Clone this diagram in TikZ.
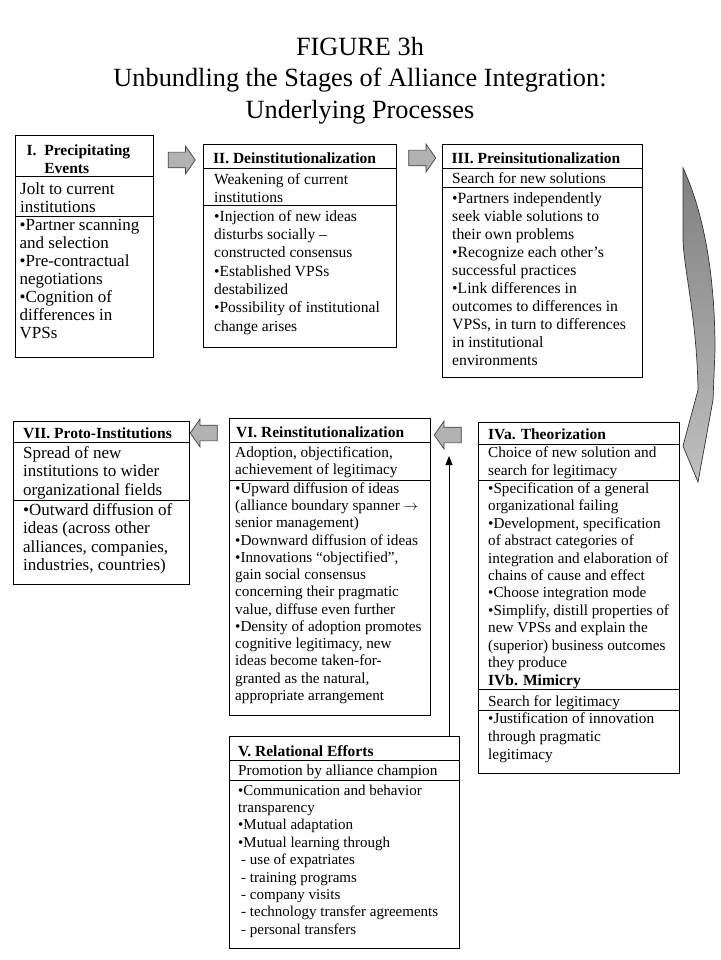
\documentclass[tikz,border=0pt]{standalone}
\usepackage{fontspec}
\setmainfont{Liberation Serif}
\usetikzlibrary{arrows.meta,shapes.arrows}

\begin{document}
\begin{tikzpicture}[
  x=1pt, y=-1pt,
  stagebox/.style={draw, line width=0.9pt, anchor=north west, inner sep=0pt},
  txt/.style={anchor=north west, inner sep=0pt, align=left},
  hdr/.style={txt, font=\fontsize{15.5}{18.3}\selectfont\bfseries},
  lg/.style={txt, font=\fontsize{15.5}{18.3}\selectfont},
  xl/.style={txt, font=\fontsize{17}{18.1}\selectfont},
  sm/.style={txt, font=\fontsize{15.3}{17.3}\selectfont},
  divider/.style={line width=0.9pt},
  fat/.style={single arrow, draw=black!75, fill=black!30, line width=0.7pt,
    minimum height=27pt, inner sep=7.5pt, single arrow head extend=6pt,
    single arrow tip angle=110},
  uparr/.style={-{Triangle[length=9pt,width=7pt]}, line width=0.9pt},
  swoop/.style={draw=black!80, line width=0.7pt, top color=black!50, bottom color=black!25}
]
  \path[fill=white] (0,0) rectangle (720,960);
  \useasboundingbox (0,0) rectangle (720,960);

  % --- title
  \node[font=\fontsize{26.3}{31.5}\selectfont, align=center, anchor=north, inner sep=0pt]
        (title) at (360,37)
        {FIGURE 3h\\Unbundling the Stages of Alliance Integration:\\Underlying Processes};

  % --- I. Precipitating Events
  \node[stagebox, minimum width=138pt, minimum height=222pt] (sI) at (15,135) {};
  \node[hdr] (hI) at (26.5,144.2) {I.~~Precipitating\\\hphantom{I.~~}Events};
  \node[xl] (uI) at (20,182.3) {Jolt to current\\institutions};
  \node[xl, font=\fontsize{17}{17.9}\selectfont] (pI) at (19.5,219.3)
        {•Partner scanning\\and selection\\•Pre-contractual\\negotiations\\•Cognition of\\differences in\\VPSs};
  \draw[divider] (sI.west |- 0,176) -- (sI.east |- 0,176);
  \draw[divider] (sI.west |- 0,216) -- (sI.east |- 0,216);

  % --- II. Deinstitutionalization
  \node[stagebox, minimum width=193pt, minimum height=203pt] (sII) at (203,144) {};
  \node[hdr] (hII) at (213,152.2) {II. Deinstitutionalization};
  \node[lg] (uII) at (214,173.2) {Weakening of current\\institutions};
  \node[lg] (pII) at (214,210.2)
        {•Injection of new ideas\\disturbs socially --\\constructed consensus\\•Established VPSs\\destabilized\\•Possibility of institutional\\change arises};
  \draw[divider] (sII.west |- 0,168) -- (sII.east |- 0,168);
  \draw[divider] (sII.west |- 0,205.5) -- (sII.east |- 0,205.5);

  % --- III. Preinsitutionalization
  \node[stagebox, minimum width=200pt, minimum height=233pt] (sIII) at (442,144) {};
  \node[hdr] (hIII) at (451.5,152.2) {III. Preinsitutionalization};
  \node[lg] (uIII) at (452,172.2) {Search for new solutions};
  \node[lg, font=\fontsize{15.7}{18}\selectfont] (pIII) at (452,192.2)
        {•Partners independently\\seek viable solutions to\\their own problems\\•Recognize each other’s\\successful practices\\•Link differences in\\outcomes to differences in\\VPSs, in turn to differences\\in institutional\\environments};
  \draw[divider] (sIII.west |- 0,168) -- (sIII.east |- 0,168);
  \draw[divider] (sIII.west |- 0,187) -- (sIII.east |- 0,187);

  % --- IVa. Theorization / IVb. Mimicry
  \node[stagebox, minimum width=201pt, minimum height=351pt] (sIV) at (478,422) {};
  \node[hdr] (hIVa) at (488,428.2) {IVa. Theorization};
  \node[sm, font=\fontsize{15.3}{18}\selectfont] (uIVa) at (488,446.3) {Choice of new solution and\\search for legitimacy};
  \node[sm, font=\fontsize{15.2}{17.4}\selectfont] (pIVa) at (488,482.5)
        {•Specification of a general\\organizational failing\\•Development, specification\\of abstract categories of\\integration and elaboration of\\chains of cause and effect\\•Choose integration mode\\•Simplify, distill properties of\\new VPSs and explain the\\(superior) business outcomes\\they produce};
  \node[hdr] (hIVb) at (488,674.2) {IVb. Mimicry};
  \node[sm] (uIVb) at (488,695.3) {Search for legitimacy};
  \node[sm, font=\fontsize{15.3}{18}\selectfont] (pIVb) at (488,712.3)
        {•Justification of innovation\\through pragmatic\\legitimacy};
  \draw[divider] (sIV.west |- 0,444) -- (sIV.east |- 0,444);
  \draw[divider] (sIV.west |- 0,480) -- (sIV.east |- 0,480);
  \draw[divider] (sIV.west |- 0,689) -- (sIV.east |- 0,689);
  \draw[divider] (sIV.west |- 0,710) -- (sIV.east |- 0,710);

  % --- V. Relational Efforts
  \node[stagebox, minimum width=230pt, minimum height=212pt] (sV) at (229,736) {};
  \node[hdr] (hV) at (238,745.2) {V. Relational Efforts};
  \node[sm] (uV) at (238,764.3) {Promotion by alliance champion};
  \node[sm, font=\fontsize{15}{17.4}\selectfont] (pV) at (238,784.5)
        {•Communication and behavior\\transparency\\•Mutual adaptation\\•Mutual learning through\\\hspace*{3pt}- use of expatriates\\\hspace*{3pt}- training programs\\\hspace*{3pt}- company visits\\\hspace*{3pt}- technology transfer agreements\\\hspace*{3pt}- personal transfers};
  \draw[divider] (sV.west |- 0,760) -- (sV.east |- 0,760);
  \draw[divider] (sV.west |- 0,780) -- (sV.east |- 0,780);

  % --- VI. Reinstitutionalization
  \node[stagebox, minimum width=201pt, minimum height=297pt] (sVI) at (229,418) {};
  \node[hdr] (hVI) at (236,426.2) {VI. Reinstitutionalization};
  \node[sm] (uVI) at (235,446.3) {Adoption, objectification,\\achievement of legitimacy};
  \node[sm, font=\fontsize{15.2}{17.25}\selectfont] (pVI) at (235,482.5)
        {•Upward diffusion of ideas\\(alliance boundary spanner $\rightarrow$\\senior management)\\•Downward diffusion of ideas\\•Innovations “objectified”,\\gain social consensus\\concerning their pragmatic\\value, diffuse even further\\•Density of adoption promotes\\cognitive legitimacy, new\\ideas become taken-for-\\granted as the natural,\\appropriate arrangement};
  \draw[divider] (sVI.west |- 0,442) -- (sVI.east |- 0,442);
  \draw[divider] (sVI.west |- 0,480) -- (sVI.east |- 0,480);

  % --- VII. Proto-Institutions
  \node[stagebox, minimum width=176pt, minimum height=163pt] (sVII) at (13,421) {};
  \node[hdr] (hVII) at (23,427.2) {VII. Proto-Institutions};
  \node[xl, font=\fontsize{17}{18.5}\selectfont] (uVII) at (23,446.3) {Spread of new\\institutions to wider\\organizational fields};
  \node[xl, font=\fontsize{17}{18.3}\selectfont] (pVII) at (23,503.3)
        {•Outward diffusion of\\ideas (across other\\alliances, companies,\\industries, countries)};
  \draw[divider] (sVII.west |- 0,442) -- (sVII.east |- 0,442);
  \draw[divider] (sVII.west |- 0,500) -- (sVII.east |- 0,500);

  % --- block arrows between stages
  \node[fat] (aI) at (179,160) {};
  \node[fat] (aII) at (419.5,158) {};
  \node[fat, shape border rotate=180] (aVI) at (206.5,433) {};
  \node[fat, shape border rotate=180] (aIV) at (450.5,435) {};

  % --- curved arrow III -> IV
  \path[swoop] (683,168) .. controls (705,215) and (715,280) .. (715,350)
        -- (713,400) -- (698,482) -- (683,446) -- (698,390)
        .. controls (697,320) and (684,270) .. (683,240) -- cycle;

  % --- V feeds up into VI/IV
  \coordinate (upEnd) at (449,456);
  \draw[uparr] (sV.north -| upEnd) -- (upEnd);
\end{tikzpicture}
\end{document}
